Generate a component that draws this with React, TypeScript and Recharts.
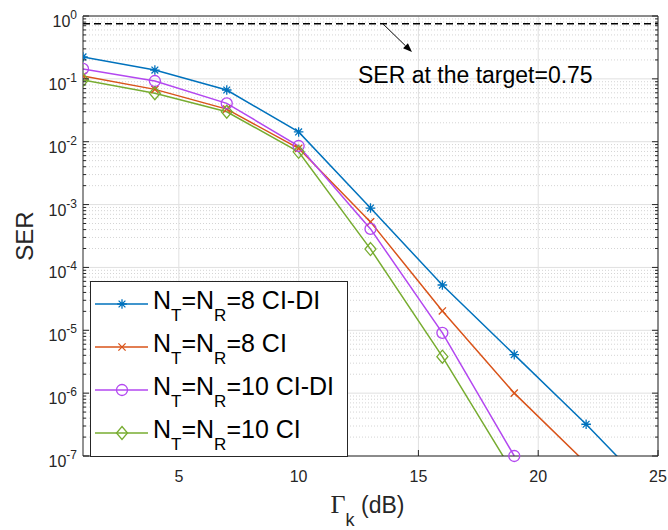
import React from 'react';
import {
  LineChart,
  Line,
  XAxis,
  YAxis,
  CartesianGrid,
  ReferenceLine,
  ReferenceDot,
  Legend,
} from 'recharts';

// SNR grid (dB) and SER curves
const snrDb = [1, 4, 7, 10, 13, 16, 19, 22, 25];
const serNt8CiDi = [0.223, 0.138, 0.0665, 0.0143, 8.8e-4, 5.25e-5, 4.1e-6, 3.2e-7, 2.1e-8];
const serNt8Ci = [0.111, 0.068, 0.033, 0.00785, 5.3e-4, 2.03e-5, 1.0e-6, 7.7e-8];
const serNt10CiDi = [0.144, 0.0925, 0.0408, 0.00855, 4.1e-4, 9.1e-6, 1.0e-7];
const serNt10Ci = [0.096, 0.059, 0.03, 0.0069, 1.96e-4, 3.8e-6, 5.1e-8];

const seriesNames = ['N_T=N_R=8 CI-DI', 'N_T=N_R=8 CI', 'N_T=N_R=10 CI-DI', 'N_T=N_R=10 CI'];

const xTicks = [5, 10, 15, 20, 25];
const decadeExps = [-7, -6, -5, -4, -3, -2, -1, 0];
const minorMantissas = [2, 3, 4, 5, 6, 7, 8, 9];

const targetSer = 0.75;
const targetNote = 'SER at the target=0.75';
// annotation anchors, in data units
const noteAt = { x: 12.48, y: 0.086 };
const arrowFrom = { x: 13.52, y: 0.75 };
const arrowTo = { x: 14.73, y: 0.267 };

const Y_MIN = 1e-7;
const AX = '#262626';
const SANS = '"Liberation Sans", Arial, Helvetica, sans-serif';

const majorTicks = decadeExps.map((e) => Math.pow(10, e));
const minorTicks = decadeExps.slice(0, -1).flatMap((e) => minorMantissas.map((m) => m * Math.pow(10, e)));
const allYTicks = [...majorTicks, ...minorTicks].sort((a, b) => a - b);

const isDecade = (v: number) => Math.abs(Math.log10(v) - Math.round(Math.log10(v))) < 1e-9;

type MarkerKind = 'star' | 'x' | 'circle' | 'diamond';

const SERIES = [
  { key: 's1', name: seriesNames[0], values: serNt8CiDi, color: '#0072BD', marker: 'star' as MarkerKind },
  { key: 's2', name: seriesNames[1], values: serNt8Ci, color: '#D95319', marker: 'x' as MarkerKind },
  { key: 's3', name: seriesNames[2], values: serNt10CiDi, color: '#B347F0', marker: 'circle' as MarkerKind },
  { key: 's4', name: seriesNames[3], values: serNt10Ci, color: '#77AC30', marker: 'diamond' as MarkerKind },
].map((s) => ({ ...s, rows: s.values.map((y, i) => ({ x: snrDb[i], y })) }));

function Marker({ kind, cx, cy, color }: { kind: MarkerKind; cx: number; cy: number; color: string }) {
  const sw = 1.3;
  if (kind === 'circle') return <circle cx={cx} cy={cy} r={5.5} fill="none" stroke={color} strokeWidth={sw} />;
  if (kind === 'diamond')
    return (
      <polygon
        points={`${cx},${cy - 6.5} ${cx + 5.5},${cy} ${cx},${cy + 6.5} ${cx - 5.5},${cy}`}
        fill="none"
        stroke={color}
        strokeWidth={sw}
      />
    );
  if (kind === 'x') {
    const d = 3.6;
    return (
      <path
        d={`M${cx - d},${cy - d}L${cx + d},${cy + d}M${cx - d},${cy + d}L${cx + d},${cy - d}`}
        stroke={color}
        strokeWidth={sw}
      />
    );
  }
  const r = 4.8;
  const d = 3.4;
  return (
    <path
      d={`M${cx - r},${cy}L${cx + r},${cy}M${cx},${cy - r}L${cx},${cy + r}M${cx - d},${cy - d}L${cx + d},${cy + d}M${cx - d},${cy + d}L${cx + d},${cy - d}`}
      stroke={color}
      strokeWidth={sw}
    />
  );
}

// "N_T=N_R=8" -> tspans with subscripts
function texSpans(label: string, size: number, subSize: number, shift: number) {
  const parts = label.split(/_(\w)/);
  return parts.map((p, i) =>
    i % 2 === 1 ? (
      <tspan key={i} fontSize={subSize} dy={shift}>
        {p}
      </tspan>
    ) : (
      <tspan key={i} fontSize={size} dy={i === 0 ? 0 : -shift}>
        {p}
      </tspan>
    ),
  );
}

function LeftTick({ x, y, payload }: any) {
  const v = payload.value as number;
  if (!isDecade(v)) return <line x1={x} x2={x + 3} y1={y} y2={y} stroke={AX} />;
  const e = Math.round(Math.log10(v));
  return (
    <g>
      <line x1={x} x2={x + 6} y1={y} y2={y} stroke={AX} />
      <text x={x - 6} y={y + 11} textAnchor="end" fill={AX} fontFamily={SANS}>
        <tspan fontSize={16}>10</tspan>
        <tspan fontSize={12} dy={-8}>
          {String(e)}
        </tspan>
      </text>
    </g>
  );
}

function RightTick({ x, y, payload }: any) {
  const len = isDecade(payload.value) ? 6 : 3;
  return <line x1={x} x2={x - len} y1={y} y2={y} stroke={AX} />;
}

function BottomTick({ x, y, payload }: any) {
  return (
    <g>
      <line x1={x} x2={x} y1={y} y2={y - 6} stroke={AX} />
      <text x={x} y={y + 26} textAnchor="middle" fontSize={16} fill={AX} fontFamily={SANS}>
        {payload.value}
      </text>
    </g>
  );
}

function TopTick({ x, y }: any) {
  return <line x1={x} x2={x} y1={y} y2={y + 6} stroke={AX} />;
}

function ArrowShape({ x1, y1, x2, y2 }: any) {
  const a = Math.atan2(y2 - y1, x2 - x1);
  const L = 9;
  const W = 3.5;
  const bx = x2 - L * Math.cos(a);
  const by = y2 - L * Math.sin(a);
  const px = -Math.sin(a) * W;
  const py = Math.cos(a) * W;
  return (
    <g>
      <line x1={x1} y1={y1} x2={bx} y2={by} stroke="#000" strokeWidth={1} />
      <polygon points={`${x2},${y2} ${bx + px},${by + py} ${bx - px},${by - py}`} fill="#000" />
    </g>
  );
}

function LegendBox() {
  const rowH = 43;
  return (
    <svg width={258} height={176} style={{ display: 'block' }}>
      <rect x={0.5} y={0.5} width={257} height={175} fill="#fff" stroke={AX} strokeWidth={1} />
      {SERIES.map((s, i) => {
        const cy = 23 + i * rowH;
        return (
          <g key={s.key}>
            <line x1={5} x2={58} y1={cy} y2={cy} stroke={s.color} strokeWidth={1.5} />
            <Marker kind={s.marker} cx={32} cy={cy} color={s.color} />
            <text x={63} y={cy + 5} fill="#000" fontFamily={SANS}>
              {texSpans(s.name, 25, 17, 12)}
            </text>
          </g>
        );
      })}
    </svg>
  );
}

export default function App() {
  return (
    <div style={{ position: 'absolute', left: 0, top: 0, background: '#fff' }}>
      <LineChart width={668} height={530} margin={{ top: 14, right: 8, bottom: 0, left: 0 }}>
        <CartesianGrid
          horizontalValues={minorTicks}
          vertical={false}
          stroke="#d4d4d4"
          strokeDasharray="1 2"
        />
        <CartesianGrid horizontalValues={majorTicks} verticalValues={xTicks} stroke="#e0e0e0" />
        <XAxis
          type="number"
          dataKey="x"
          domain={[1, 25]}
          ticks={xTicks}
          allowDataOverflow
          height={74}
          tickSize={0}
          tickMargin={0}
          tickLine={false}
          tick={<BottomTick />}
          axisLine={{ stroke: AX }}
          label={{
            content: ({ viewBox }: any) => (
              <text
                x={viewBox.x + viewBox.width / 2 - 3}
                y={viewBox.y + 57}
                textAnchor="middle"
                fill={AX}
                fontFamily={SANS}
              >
                <tspan fontFamily='"Liberation Serif", "Times New Roman", serif' fontSize={26}>
                  Γ
                </tspan>
                <tspan fontSize={18} dy={13}>
                  k
                </tspan>
                <tspan fontSize={23} dy={-13}>
                  {' (dB)'}
                </tspan>
              </text>
            ),
          }}
        />
        <XAxis
          xAxisId="t"
          orientation="top"
          type="number"
          domain={[1, 25]}
          ticks={xTicks}
          height={2}
          tickSize={0}
          tickMargin={0}
          tickLine={false}
          tick={<TopTick />}
          axisLine={{ stroke: AX }}
        />
        <YAxis
          scale="log"
          type="number"
          domain={[Y_MIN, 1]}
          ticks={allYTicks}
          allowDataOverflow
          interval={0}
          width={83}
          tickSize={0}
          tickMargin={0}
          tickLine={false}
          tick={<LeftTick />}
          axisLine={{ stroke: AX }}
          label={{
            content: ({ viewBox }: any) => {
              const cx = viewBox.x + 33;
              const cy = viewBox.y + viewBox.height / 2;
              return (
                <text
                  x={cx}
                  y={cy}
                  transform={`rotate(-90, ${cx}, ${cy})`}
                  textAnchor="middle"
                  fontSize={24}
                  fill={AX}
                  fontFamily={SANS}
                >
                  SER
                </text>
              );
            },
          }}
        />
        <YAxis
          yAxisId="r"
          orientation="right"
          scale="log"
          type="number"
          domain={[Y_MIN, 1]}
          ticks={allYTicks}
          interval={0}
          width={2}
          tickSize={0}
          tickMargin={0}
          tickLine={false}
          tick={<RightTick />}
          axisLine={{ stroke: AX }}
        />

        <ReferenceLine y={targetSer} stroke="#000" strokeWidth={1.5} strokeDasharray="7 4" />
        <ReferenceLine segment={[arrowFrom, arrowTo]} shape={<ArrowShape />} />
        <ReferenceDot
          x={noteAt.x}
          y={noteAt.y}
          r={0}
          shape={(p: any) => (
            <text x={p.cx} y={p.cy} fontSize={23} fill="#000" fontFamily={SANS}>
              {targetNote}
            </text>
          )}
        />

        {SERIES.map((s) => (
          <Line
            key={s.key}
            data={s.rows}
            dataKey="y"
            name={s.name}
            stroke={s.color}
            strokeWidth={1.5}
            dot={false}
            activeDot={false}
            isAnimationActive={false}
          />
        ))}
        {/* markers on the unclipped right axis; points below the axis limit are not drawn */}
        {SERIES.map((s) => (
          <Line
            key={s.key + 'm'}
            yAxisId="r"
            data={s.rows.filter((r) => r.y >= Y_MIN)}
            dataKey="y"
            stroke="none"
            legendType="none"
            activeDot={false}
            dot={(p: any) => <Marker key={p.index} kind={s.marker} cx={p.cx} cy={p.cy} color={s.color} />}
            isAnimationActive={false}
          />
        ))}

        <Legend
          layout="vertical"
          align="center"
          verticalAlign="middle"
          wrapperStyle={{ left: 90, top: 281, width: 258, height: 176 }}
          content={() => <LegendBox />}
        />
      </LineChart>
    </div>
  );
}
